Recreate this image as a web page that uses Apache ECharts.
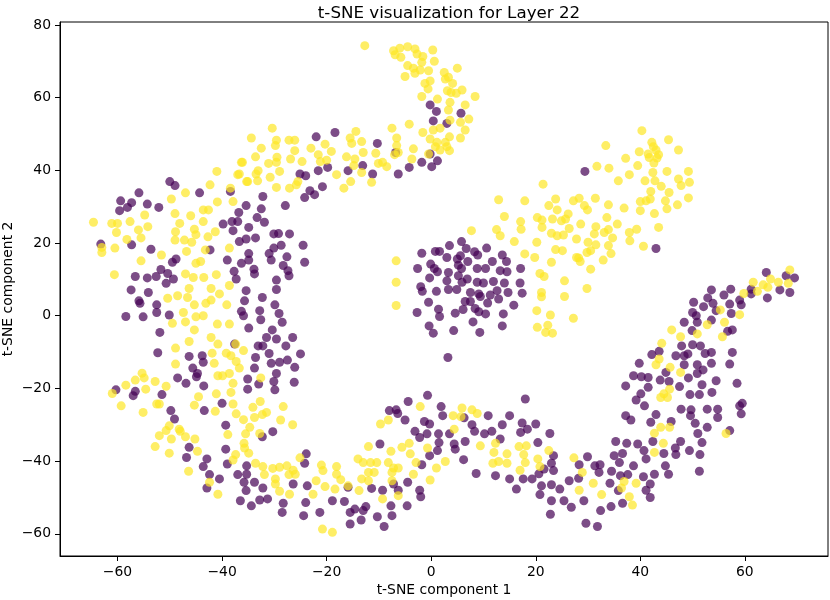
<!DOCTYPE html>
<html>
<head>
<meta charset="utf-8">
<title>t-SNE visualization for Layer 22</title>
<script src="https://cdn.jsdelivr.net/npm/echarts@6/dist/echarts.min.js"></script>
<style>
    html, body { margin: 0; padding: 0; background: #fff; }
    #main { width: 830px; height: 600px; }
</style>
</head>
<body>
<div id="main"></div>
<script>
"use strict";

// tick labels of both axes
var xTicks = [-60, -40, -20, 0, 20, 40, 60];
var yTicks = [-60, -40, -20, 0, 20, 40, 60, 80];

// class 0 (purple), [component 1, component 2]
var purplePoints = [
    // left band, upper part
    [-50.0,36.9],[-49.0,35.8],[-55.9,33.8],[-44.3,33.8],[-59.4,31.6],[-57.3,31.1],[-58.1,29.8],[-59.6,28.9],
    [-54.3,30.7],[-52.1,29.8],[-35.4,30.3],[-36.8,28.4],[-39.8,25.2],[-38.1,25.9],[-37.0,25.9],[-34.9,24.3],
    [-37.9,23.4],[-33.6,21.4],[-35.4,21.1],[-36.7,20.4],[-63.2,19.7],[-57.3,19.5],[-53.6,18.3],[-42.3,18.1],
    [-34.9,17.1],[-34.9,15.3],[-36.3,14.4],[-39.0,15.3],[-48.8,15.6],[-49.5,14.7],[-33.9,12.8],[-33.8,11.5],
    [-37.7,12.2],[-37.3,10.1],[-51.7,12.7],[-52.6,10.8],[-54.3,10.4],[-56.6,10.8],[-50.4,11.6],[-49.3,10.1],
    [-50.7,8.9],[-57.4,7.1],[-54.1,6.4],[-35.4,6.9],[-55.9,4.1],[-35.7,4.1],
    // left band, middle
    [-55.7,3.4],[-52.5,3.0],[-52.5,0.9],[-58.4,-0.2],[-55.1,-0.3],[-50.1,0.2],[-36.3,1.2],[-35.9,0],
    [-34.9,-3.4],[-51.9,-4.6],[-37.6,-7.8],[-33.1,-8.3],[-52.3,-10.2],[-46.3,-11.2],[-43.8,-11.0],[-43.6,-12.8],
    [-33.6,-11.5],[-33.8,-14.4],[-45.6,-14.4],[-44.7,-15.9],[-44.9,-16.8],[-48.5,-17.1],[-46.9,-18.6],[-43.5,-19.3],
    [-35.1,-17.4],[-35.1,-20.2],[-60.3,-20.4],[-56.6,-20.8],[-57.0,-22.0],[-51.5,-21.7],[-40.0,-24.1],[-43.4,-26.1],
    [-49.8,-26.1],[-49.1,-28.4],[-39.3,-30.1],
    // lower left
    [-30.3,-31.9],[-32.3,-33.3],[-39.3,-36.7],[-39.0,-40.8],[-42.9,-39.4],[-43.6,-41.5],[-42.4,-43.7],[-40.5,-44.9],
    [-42.9,-47.4],[-46.3,-36.2],[-46.8,-39.0],[-35.3,-41.3],[-35.3,-43.6],[-35.8,-45.8],[-35.4,-48.1],[-33.8,-45.8],
    [-37.0,-43.7],[-36.5,-50.9],[-34.4,-52.3],[-32.8,-50.7],[-31.3,-50.4],[-32.2,-47.4],[-26.4,-46.3],[-28.3,-51.6],
    [-28.5,-54.1],[-24.0,-51.4],[-24.4,-55.0],[-23.7,-46.8],[-23.9,-38.0],[-24.2,-40.6],[-21.3,-54.1],[-18.9,-50.9],
    [-16.6,-51.1],[-15.5,-54.1],[-15.5,-57.3],
    // upper arc
    [-0.2,58.0],[1.0,56.2],[0.4,53.6],[3.0,52.9],[5.7,55.7],[-22.0,49.2],[-18.4,50.4],[-10.3,47.4],
    [-6.8,44.9],[-0.2,44.5],[-1.8,42.2],[0.1,41.0],[1.2,42.6],[-4.2,40.8],[-6.3,39.0],[-11.2,39.0],
    [-13.1,41.3],[-15.9,39.9],[-19.8,40.8],[-21.6,39.9],[-25.1,39.0],[-24.0,38.5],[-23.2,34.4],[-22.3,33.3],
    [-20.8,35.5],[-24.2,32.5],[-32.2,32.8],[-27.9,30.3],[-38.4,34.2],[-32.5,29.4],
    // inner edge of left band
    [-31.9,25.7],[-33.3,27.0],[-30.1,22.5],[-29.2,22.6],[-27.1,22.5],[-28.7,19.4],[-30.1,18.6],[-31.0,17.1],
    [-30.6,15.3],[-27.6,16.2],[-28.3,13.8],[-27.4,12.4],[-27.2,11.0],[-24.5,19.4],[-24.2,14.7],[-29.6,9.8],
    [-29.6,7.2],[-32.3,5.0],[-29.9,3.0],[-29.1,0.6],[-28.5,-1.8],[-32.8,1.4],[-32.6,-1.1],[-30.4,-3.9],
    [-29.6,-6.4],[-31.5,-6.0],[-32.2,-8.3],[-26.5,-6.0],[-27.8,-8.3],[-31.0,-10.4],[-29.0,-12.8],[-30.6,-13.1],
    [-27.5,-12.2],[-26.1,-14.2],[-25.0,-10.5],[-29.6,-15.9],[-30.1,-18.1],[-29.9,-20.4],[-26.2,-18.3],[-33.0,-18.8],
    // central blob
    [5.8,20.4],[3.5,19.3],[6.7,18.5],[-1.8,17.2],[0.8,17.7],[1.6,17.7],[3.0,16.0],[5.6,16.5],
    [5.0,15.6],[8.3,17.6],[8.9,16.7],[10.6,18.6],[7.0,14.9],[5.2,13.9],[5.8,13.0],[-0.1,14.2],
    [0.6,13.0],[1.2,12.1],[-2.6,13.0],[3.3,11.9],[-0.3,10.4],[5.2,11.0],[6.9,10.1],[8.8,13.0],
    [10.4,13.0],[11.7,14.9],[13.6,16.7],[14.4,14.9],[13.2,12.4],[14.5,12.1],[17.1,13.0],[-2.0,8.0],
    [-1.7,6.7],[1.0,6.7],[3.0,9.6],[3.3,7.2],[4.9,7.2],[5.9,9.2],[8.8,9.2],[10.0,9.0],
    [11.9,9.4],[14.0,9.0],[17.0,9.0],[7.5,6.4],[9.1,6.0],[9.4,5.3],[11.3,5.7],[12.6,6.9],
    [12.9,4.6],[14.7,6.4],[17.4,6.2],[-0.5,3.7],[6.5,3.9],[7.5,3.9],[10.8,3.5],[15.8,2.9],
    [-2.7,0.9],[1.4,1.8],[1.6,-0.2],[4.6,0.7],[6.1,1.7],[8.4,2.0],[9.1,1.1],[10.4,0.5],
    [13.8,0.5],[8.0,-1.7],[-0.4,-2.8],[0.4,-4.8],[4.3,-4.1],[9.3,-4.6],[13.6,-2.8],[3.2,-11.5],
    [29.4,39.7],[43.0,18.5],
    // bottom wave
    [-4.4,-23.6],[-0.7,-21.9],[-8.0,-26.1],[-6.7,-25.9],[-6.4,-26.9],[-5.0,-28.7],[1.9,-25.0],[2.2,-27.5],
    [-3.1,-31.8],[-2.2,-33.5],[-1.3,-29.1],[-0.3,-29.8],[-0.8,-32.5],[1.4,-32.5],[1.5,-34.9],[1.2,-37.1],
    [-0.3,-38.5],[-1.8,-41.0],[-4.5,-45.8],[-2.2,-48.0],[-2.0,-49.8],[-4.6,-52.3],[-6.3,-48.0],[-7.2,-46.3],
    [-9.3,-48.0],[-11.4,-47.5],[-7.7,-52.3],[-7.5,-55.0],[-9.0,-58.0],[-10.3,-55.3],[-12.5,-52.5],[-13.0,-53.6],
    [-13.4,-56.2],[-14.6,-53.2],[6.3,-28.1],[7.8,-30.0],[8.3,-31.8],[6.5,-34.6],[4.4,-35.3],[4.6,-36.7],
    [6.2,-39.6],[8.6,-43.4],[3.5,-32.5],[10.9,-27.5],[10.2,-32.5],[11.6,-31.8],[13.2,-33.9],[13.6,-30.0],
    [15.0,-27.5],[17.4,-29.5],[17.1,-32.1],[18.4,-31.2],[20.0,-29.8],[18.0,-22.9],[12.3,-44.0],[15.0,-44.9],
    [16.3,-47.7],[17.6,-44.9],[19.3,-44.9],[20.6,-43.5],[21.6,-42.2],[21.1,-46.8],[20.8,-49.2],[23.0,-46.5],
    [23.0,-50.9],[22.8,-54.6],[24.6,-47.7],[25.4,-50.9],[26.4,-45.4],[26.8,-52.7],[22.7,-32.4],[20.4,-34.9],
    [23.4,-38.5],[23.0,-40.6],[23.4,-42.6],[28.3,-41.0],[28.2,-44.7],[-9.8,-35.3],[-15.9,-47.2],
    // right arm
    [64.1,11.9],[67.9,11.0],[69.5,10.4],[66.7,7.1],[68.6,6.4],[64.3,4.9],[61.2,7.3],[61.2,6.0],
    [59.0,4.3],[59.3,3.0],[57.3,7.3],[57.1,3.2],[57.4,0.6],[56.0,5.7],[53.6,7.1],[52.9,4.9],
    [53.9,3.4],[52.1,2.5],[50.2,3.7],[50.0,0.9],[50.7,0],[50.9,-1.8],[48.4,-1.8],[49.9,-4.1],
    [54.5,1.4],[53.6,-1.2],[56.7,-4.3],[57.6,-3.9],[47.9,-8.3],[50.0,-8.0],[51.5,-8.3],[53.6,-10.1],
    [52.4,-10.4],[57.6,-10.1],[57.1,-13.3],[53.6,-13.1],[50.9,-13.5],[48.4,-11.0],[46.8,-11.0],[49.1,-10.5],
    [43.6,-9.8],[42.2,-10.7],[39.8,-13.1],[48.4,-13.5],[52.0,-14.9],[50.9,-15.9],[49.2,-17.1],[47.5,-19.5],
    [51.8,-19.0],[54.5,-17.9],[53.7,-21.1],[51.3,-21.7],[49.5,-21.7],[58.5,-18.6],[44.9,-15.6],[43.8,-17.7],
    [45.5,-18.1],[41.5,-17.0],[40.2,-16.8],[38.7,-16.5],[37.2,-19.3],[41.5,-19.7],[40.1,-21.5],[39.2,-23.2],
    [40.8,-24.8],[43.0,-27.2],[42.0,-29.3],[37.2,-27.5],[38.2,-28.7],[45.9,-29.1],[47.8,-25.7],[49.7,-25.9],
    [49.6,-27.5],[50.5,-29.6],[52.8,-25.7],[54.8,-25.7],[54.8,-28.0],[52.8,-30.7],[59.5,-24.1],[59.0,-24.8],
    [59.3,-27.0],[57.1,-31.6],
    // lower right
    [35.3,-34.6],[37.4,-35.1],[39.5,-35.3],[40.7,-37.1],[42.4,-34.6],[44.5,-37.9],[46.7,-36.4],[46.8,-38.2],
    [49.4,-37.1],[51.4,-38.2],[51.8,-34.9],[47.7,-34.6],[51.0,-32.4],[29.9,-38.8],[31.3,-41.3],[32.3,-41.0],
    [35.0,-38.5],[36.0,-40.4],[36.6,-37.9],[38.7,-41.3],[41.1,-39.4],[32.1,-43.1],[34.5,-42.8],[37.6,-43.7],
    [36.2,-44.0],[40.6,-44.3],[41.9,-46.3],[42.7,-43.6],[44.8,-41.3],[45.4,-43.6],[51.3,-42.8],[34.2,-46.1],
    [35.8,-48.1],[41.1,-48.0],[41.9,-50.0],[36.6,-51.6],[34.4,-52.5],[32.4,-53.6],[29.6,-57.1],[31.8,-58.0],
    [29.2,-50.9]
];

// class 1 (yellow)
var yellowPoints = [
    // left band, upper part
    [-41.0,39.7],[-36.3,42.2],[-36.7,39.0],[-33.5,39.0],[-33.2,37.1],[-42.3,36.0],[-38.4,35.1],[-35.3,36.9],
    [-47.0,33.8],[-49.7,32.1],[-40.9,31.3],[-37.9,31.4],[-54.8,27.7],[-49.0,28.1],[-46.0,27.5],[-43.6,29.1],
    [-42.6,29.1],[-64.6,25.7],[-61.1,25.4],[-60.0,25.4],[-57.6,25.9],[-54.2,24.5],[-56.0,23.6],[-60.2,22.9],
    [-48.1,25.4],[-43.6,25.9],[-48.9,23.1],[-45.3,23.8],[-45.0,22.3],[-41.3,23.1],[-42.7,21.7],[-55.5,21.4],
    [-49.0,20.8],[-47.2,20.8],[-45.8,20.2],[-58.2,21.0],[-63.0,18.8],[-63.0,17.4],[-60.5,18.6],[-46.8,17.7],
    [-43.2,18.1],[-38.6,18.6],[-51.6,16.7],[-55.5,15.1],[-45.0,14.4],[-44.1,14.9],[-60.6,11.3],[-47.0,11.5],
    [-45.5,10.5],[-43.5,10.5],[-41.1,11.3],[-38.6,8.3],[-46.3,7.5],[-42.1,7.5],[-50.4,4.8],[-48.5,5.5],
    [-46.6,5.0],
    // left band, middle
    [-45.3,3.0],[-43.1,3.4],[-42.1,4.3],[-40.5,6.0],[-39.1,3.0],[-47.4,0.9],[-47.0,-1.7],[-45.0,-0.3],
    [-43.6,0],[-49.5,-2.1],[-40.9,-2.3],[-38.6,-2.3],[-45.3,-3.9],[-46.3,-7.1],[-42.1,-6.0],[-40.8,-7.8],
    [-37.4,-7.8],[-35.9,-9.6],[-48.9,-8.9],[-41.9,-10.3],[-39.2,-10.3],[-38.3,-11.0],[-37.3,-12.6],[-36.7,-14.4],
    [-48.9,-13.3],[-41.5,-13.1],[-55.3,-15.8],[-54.9,-17.1],[-56.6,-17.7],[-58.4,-19.1],[-61.0,-21.4],[-59.3,-24.8],
    [-55.1,-26.6],[-52.8,-18.1],[-54.6,-20.2],[-50.7,-19.4],[-52.5,-24.3],[-52.0,-24.3],[-50.1,-30.3],[-48.2,-31.2],
    [-40.8,-16.5],[-39.9,-16.5],[-38.6,-15.9],[-37.9,-18.6],[-41.1,-21.5],[-38.3,-21.1],[-37.9,-24.3],[-44.5,-22.3],
    [-45.3,-24.6],[-34.1,-25.2],[-37.3,-27.0],[-35.9,-28.6],[-33.8,-28.0],[-34.7,-30.7],[-32.6,-17.1],[-32.7,-23.6],
    // lower left
    [-28.3,-25.0],[-28.8,-28.7],[-26.5,-30.0],[-31.5,-26.6],[-32.3,-27.2],[-41.3,-26.3],[-32.8,-32.4],[-35.5,-32.5],
    [-38.9,-32.7],[-35.8,-35.1],[-35.7,-36.4],[-34.9,-37.8],[-37.4,-38.2],[-37.9,-39.7],[-42.4,-45.8],[-40.8,-49.1],
    [-46.4,-42.8],[-44.7,-37.3],[-50.1,-37.8],[-52.8,-36.0],[-52.0,-33.0],[-49.7,-33.9],[-48.0,-31.8],[-47.0,-33.3],
    [-45.2,-33.9],[-50.7,-31.6],[-33.6,-40.6],[-32.2,-41.5],[-31.9,-43.7],[-30.3,-42.0],[-29.0,-41.7],[-27.6,-41.3],
    [-26.4,-42.5],[-26.0,-43.6],[-27.2,-43.7],[-29.8,-44.9],[-29.8,-46.3],[-29.0,-48.3],[-27.1,-49.1],[-25.1,-39.1],
    [-21.0,-41.1],[-20.7,-42.6],[-18.1,-41.5],[-18.1,-43.6],[-17.3,-45.1],[-15.9,-46.8],[-22.0,-45.4],[-20.3,-47.0],
    [-18.4,-47.7],[-22.6,-49.1],[-20.8,-58.7],[-18.9,-59.6],
    // upper arc and top hook
    [-12.7,74.3],[-7.2,72.9],[-6.0,73.6],[-4.5,74.0],[-3.1,73.4],[-2.7,72.0],[-1.6,71.3],[-1.8,69.7],
    [0.3,73.1],[0.6,70.0],[-6.9,71.8],[-5.8,71.1],[-4.5,68.8],[-3.4,68.1],[-2.1,67.6],[-3.1,66.7],
    [-5.0,65.8],[-0.5,67.4],[-0.2,64.6],[-1.2,63.9],[-0.6,62.4],[2.5,66.9],[3.3,65.6],[5.0,68.1],
    [2.7,65.1],[4.1,63.9],[3.1,61.9],[3.8,61.4],[4.8,61.2],[5.9,62.1],[8.4,60.3],[-1.8,60.3],
    [1.2,59.6],[3.6,58.7],[3.3,56.6],[6.5,58.0],[7.2,54.1],[6.5,51.1],[3.6,53.8],[5.6,53.2],
    [1.7,51.6],[0.4,51.1],[-1.6,50.4],[-0.2,48.6],[1.1,47.7],[2.7,47.7],[3.5,49.2],[5.6,48.9],
    [3.0,46.5],[3.5,45.4],[1.7,45.6],[0.8,46.5],[-0.5,44.5],[-4.2,52.7],[-7.5,51.6],[-6.6,48.9],
    [-6.6,46.8],[-3.4,45.9],[-3.7,43.1],[-6.3,44.9],[-7.0,44.3],[-10.6,44.7],[-9.3,42.2],[-8.5,41.0],
    [-10.1,41.9],[-11.4,36.7],[-13.3,39.4],[-13.0,44.9],[-14.4,50.7],[-13.3,47.9],[-15.2,47.4],[-15.5,48.9],
    [-16.2,43.7],[-14.6,43.1],[-14.8,41.3],[-15.4,36.9],[-16.7,35.1],[-18.1,38.8],[-19.1,45.2],[-20.3,47.2],
    [-21.6,44.3],[-23.0,46.1],[-21.2,42.4],[-20.0,42.8],[-24.7,42.4],[-26.1,45.4],[-27.2,48.3],[-26.1,48.3],
    [-26.9,43.1],[-29.6,48.3],[-29.8,46.8],[-29.5,43.6],[-29.0,39.7],[-29.6,42.2],[-31.1,41.9],[-32.5,46.1],
    [-34.4,48.9],[-33.6,43.7],[-36.1,42.2],[-30.8,38.1],[-33.1,39.9],[-37.0,38.8],[-35.1,36.9],[-30.4,51.6],
    [-29.6,35.3],[-27.1,35.1],[-25.5,36.9],[-25.8,36.0],
    // edge of central blob
    [-6.7,15.1],[-6.7,9.2],[-6.7,2.8],[7.7,23.4],[12.5,23.7],[13.2,22.0],[17.2,23.8],[21.2,24.3],
    [15.9,20.4],[17.9,17.0],[19.8,16.0],[20.2,20.2],[23.0,22.7],[24.1,22.0],[25.3,22.2],[26.4,24.0],
    [27.8,21.1],[23.8,18.2],[25.1,17.9],[23.0,14.7],[27.8,16.0],[20.8,11.6],[21.6,10.8],[25.5,9.6],
    [21.1,6.4],[21.1,5.2],[25.5,5.3],[20.2,1.4],[22.8,0.2],[27.2,-0.7],[20.3,-3.2],[22.3,-2.6],
    [21.9,-4.6],[23.2,-4.8],
    // upper right cloud
    [40.3,50.9],[42.2,47.7],[43.0,45.6],[45.4,48.4],[47.3,45.6],[37.2,43.3],[39.8,45.1],[39.5,41.3],
    [41.7,43.5],[43.2,43.4],[42.6,42.0],[42.5,46.5],[41.5,44.5],[43.5,44.3],[33.4,46.8],[31.7,41.1],
    [34.0,40.6],[37.9,38.8],[35.8,37.1],[42.4,39.4],[45.1,39.7],[49.2,39.7],[49.4,36.7],[47.3,37.6],
    [47.8,35.8],[40.9,37.1],[42.8,37.1],[44.0,35.6],[45.5,33.9],[42.0,34.2],[41.9,32.1],[41.1,31.6],
    [40.0,31.4],[44.8,31.6],[45.1,29.4],[42.7,28.1],[47.1,30.5],[49.2,32.4],[40.0,28.9],[36.9,29.6],
    [33.9,30.5],[31.4,32.3],[33.6,27.0],[31.5,24.5],[31.2,22.5],[33.1,22.9],[43.5,24.3],[39.3,23.8],
    [37.9,22.9],[38.0,20.6],[40.6,19.1],[35.6,25.2],[34.7,21.4],[33.9,19.3],[34.4,17.1],[32.9,15.3],
    [33.9,23.7],[30.0,20.2],[31.5,19.5],[30.5,17.9],[29.8,17.4],[28.2,15.9],[28.5,14.9],[30.5,12.8],
    [12.9,31.9],[17.9,31.6],[21.4,36.2],[14.0,27.3],[17.1,25.9],[20.3,27.0],[21.2,26.3],[23.2,26.6],
    [23.8,32.1],[22.5,30.3],[24.1,29.1],[26.2,28.0],[25.7,26.6],[24.9,26.1],[27.2,31.6],[28.3,32.3],
    [29.3,30.3],[29.9,29.1],[28.6,25.2],[29.8,7.5],
    // bottom wave
    [-2.1,-25.0],[-9.7,-29.8],[-8.2,-28.7],[-12.0,-36.0],[-7.7,-37.3],[-5.6,-36.2],[-4.2,-35.1],[-4.0,-38.0],
    [-0.7,-36.4],[-2.9,-40.4],[-3.4,-43.6],[-0.2,-45.2],[1.0,-41.9],[2.7,-40.1],[4.4,-31.2],[4.2,-27.5],
    [5.9,-25.4],[5.7,-27.8],[7.8,-25.9],[8.8,-26.9],[9.4,-35.8],[12.0,-37.6],[12.3,-35.1],[14.5,-38.0],
    [14.5,-40.6],[12.9,-40.1],[11.8,-40.6],[16.8,-36.0],[18.2,-35.8],[17.7,-38.2],[18.0,-40.4],[17.0,-42.5],
    [20.4,-39.4],[20.8,-41.5],[22.5,-37.1],[27.3,-39.1],[28.3,-48.0],[-14.0,-39.4],[-13.0,-40.4],[-11.6,-40.4],
    [-10.4,-40.4],[-8.2,-40.4],[-7.2,-41.9],[-6.3,-41.9],[-12.0,-43.1],[-10.9,-43.1],[-7.5,-43.1],[-13.3,-44.9],
    [-12.0,-45.4],[-7.5,-45.4],[-13.8,-48.1],[-9.3,-50.4],[-6.3,-49.5],
    // right arm
    [68.6,12.6],[64.9,10.1],[66.4,9.2],[61.6,9.2],[63.5,8.5],[64.4,7.8],[62.4,6.7],[68.3,8.9],
    [59.8,6.1],[55.3,1.6],[59.0,0.3],[56.1,-1.8],[52.8,-2.5],[50.9,-5.0],[55.7,-5.8],[47.7,-5.8],
    [46.0,-3.9],[44.1,-7.6],[43.6,-11.9],[43.0,-13.5],[45.7,-14.2],[47.7,-15.6],[45.6,-20.2],[44.5,-21.5],
    [43.9,-22.5],[45.2,-22.5],[43.9,-30.7],[45.6,-30.7],
    // lower right
    [28.9,-43.1],[31.0,-46.1],[32.6,-49.2],[36.9,-45.6],[36.4,-47.4],[37.9,-49.8],[38.5,-52.1],[39.2,-46.1],
    [42.7,-32.3],[44.4,-35.1],[42.7,-37.6],[56.4,-32.4]
];

(function (win) {

    var FONT = '"DejaVu Sans", sans-serif';

    /** matplotlib draws a real minus sign */
    var tickFormatter = function (v) {
        return String(v).replace('-', '\u2212');
    };

    var dom = document.getElementById('main');
    var chart = echarts.init(dom, null, {renderer: 'canvas'});

    var chartOptions = {
        animation: false,
        backgroundColor: '#fff',
        title: {
            text: 't-SNE visualization for Layer 22',
            left: 444,
            textAlign: 'center',
            top: 0,
            textStyle: {
                fontFamily: FONT,
                fontSize: 16.7,
                fontWeight: 'normal',
                color: '#000'
            }
        },
        grid: {
            left: 60,
            right: 2,
            top: 22,
            bottom: 44,
            containLabel: false,
            outerBoundsMode: 'none',
            show: true,
            borderColor: '#000',
            borderWidth: 1
        },
        xAxis: {
            type: 'value',
            min: -71.0,
            max: 75.9,
            name: 't-SNE component 1',
            nameLocation: 'middle',
            nameGap: 27,
            nameMoveOverlap: false,
            nameTextStyle: {fontFamily: FONT, fontSize: 13.9, color: '#000'},
            splitLine: {show: false},
            axisLine: {onZero: false, lineStyle: {color: '#000', width: 1}},
            axisTick: {length: 5, customValues: xTicks, lineStyle: {color: '#000'}},
            axisLabel: {
                customValues: xTicks,
                formatter: tickFormatter,
                margin: 9,
                fontFamily: FONT,
                fontSize: 13.9,
                color: '#000'
            }
        },
        yAxis: {
            type: 'value',
            min: -66.1,
            max: 80.8,
            name: 't-SNE component 2',
            nameLocation: 'middle',
            nameGap: 45,
            nameRotate: 90,
            nameMoveOverlap: false,
            nameTextStyle: {fontFamily: FONT, fontSize: 13.9, color: '#000'},
            splitLine: {show: false},
            axisLine: {show: true, onZero: false, lineStyle: {color: '#000', width: 1}},
            axisTick: {show: true, length: 5, customValues: yTicks, lineStyle: {color: '#000'}},
            axisLabel: {
                customValues: yTicks,
                formatter: tickFormatter,
                margin: 9,
                fontFamily: FONT,
                fontSize: 13.9,
                color: '#000'
            }
        },
        series: [
            {
                name: '0',
                type: 'scatter',
                symbol: 'circle',
                symbolSize: 9,
                itemStyle: {color: '#440154', opacity: 0.7},
                data: purplePoints
            },
            {
                name: '1',
                type: 'scatter',
                symbol: 'circle',
                symbolSize: 9,
                itemStyle: {color: '#fde725', opacity: 0.7},
                data: yellowPoints
            }
        ]
    };

    chart.setOption(chartOptions, true);
    win.addEventListener('resize', function () {
        chart.resize();
    });
})(window);
</script>
</body>
</html>
